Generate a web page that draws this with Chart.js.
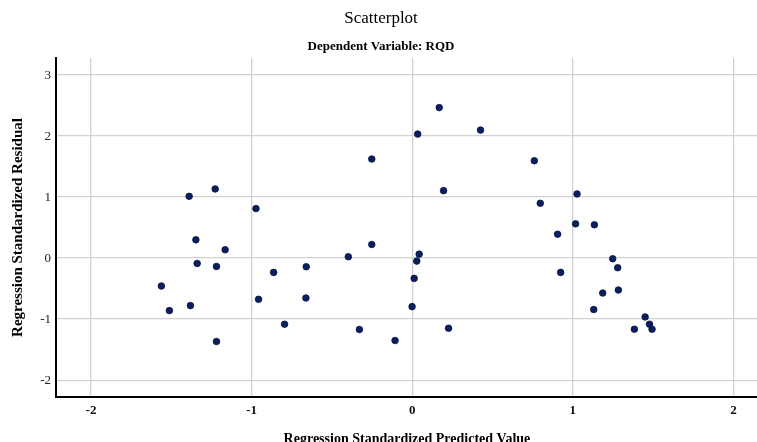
<!DOCTYPE html>
<html><head><meta charset="utf-8">
<script src="https://cdn.jsdelivr.net/npm/chart.js@4"></script>
<style>html,body{margin:0;padding:0;overflow:hidden;background:#fff}</style>
</head><body>
<canvas id="c" width="762" height="448"></canvas>
<script>
const predicted = [
  -1.227, -1.389, -0.973, -1.347, -1.165, -1.339, -1.219, -0.863, -1.562, -0.957,
  -1.381, -1.512, -0.795, -1.219, -0.660, -0.662,
  0.168, 0.425, 0.034, -0.252, 0.195, -0.252, -0.398, 0.043, 0.028, 0.012,
  -0.001, -0.329, 0.226, -0.107,
  0.760, 1.026, 0.797, 1.017, 1.134, 0.905, 1.248, 1.279, 0.924, 1.186,
  1.283, 1.130, 1.450, 1.477, 1.493, 1.383
];
const residual = [
  1.134, 1.013, 0.812, 0.300, 0.137, -0.087, -0.136, -0.234, -0.457, -0.675,
  -0.778, -0.860, -1.083, -1.366, -0.141, -0.654,
  2.467, 2.098, 2.033, 1.624, 1.106, 0.224, 0.023, 0.065, -0.049, -0.332,
  -0.795, -1.170, -1.149, -1.350,
  1.596, 1.052, 0.899, 0.562, 0.546, 0.392, -0.010, -0.157, -0.234, -0.572,
  -0.523, -0.843, -0.964, -1.083, -1.165, -1.165
];
const xTicks = [-2, -1, 0, 1, 2];
const yTicks = [-2, -1, 0, 1, 2, 3];
const chartTitle = 'Scatterplot';
const chartSubtitle = 'Dependent Variable: RQD';
const xTitle = 'Regression Standardized Predicted Value';
const yTitle = 'Regression Standardized Residual';

const serif = 'Liberation Serif, Times New Roman, serif';
const gridOpts = {color: '#d2d2d2', lineWidth: 1.3, drawTicks: false};

new Chart(document.getElementById('c'), {
  type: 'scatter',
  data: {
    datasets: [{
      data: predicted.map((x, i) => ({x: x, y: residual[i]})),
      pointRadius: 3.3,
      pointHoverRadius: 3.3,
      pointBackgroundColor: '#0b1f5f',
      pointBorderColor: '#061340',
      pointBorderWidth: 0.8
    }]
  },
  options: {
    responsive: false,
    devicePixelRatio: 1,
    animation: false,
    layout: {padding: 0},
    plugins: {
      legend: {display: false},
      tooltip: {enabled: false},
      title: {
        display: true, text: chartTitle, color: '#000',
        font: {family: serif, size: 17, weight: 'normal', lineHeight: 1.2},
        padding: {top: 8, bottom: 0}
      },
      subtitle: {
        display: true, text: chartSubtitle, color: '#000',
        font: {family: serif, size: 13, weight: 'bold', lineHeight: 1.2},
        padding: {top: 10, bottom: 4}
      }
    },
    scales: {
      x: {
        type: 'linear', min: -2.218, max: 2.152,
        afterBuildTicks: s => { s.ticks = xTicks.map(v => ({value: v})); },
        afterFit: s => { s.height = 51; },
        grid: gridOpts,
        border: {color: '#000', width: 2},
        ticks: {
          padding: 6, color: '#111', autoSkip: false, maxRotation: 0,
          font: {family: serif, size: 13, weight: 'bold'},
          callback: v => String(v)
        },
        title: {
          display: true, text: xTitle, color: '#000',
          font: {family: serif, size: 14, weight: 'bold', lineHeight: 1.2},
          padding: {top: 0, bottom: 0.6}
        }
      },
      y: {
        type: 'linear', min: -2.276, max: 3.28,
        afterBuildTicks: s => { s.ticks = yTicks.map(v => ({value: v})); },
        afterFit: s => { s.width = 56; },
        grid: gridOpts,
        border: {color: '#000', width: 2},
        ticks: {
          padding: 5, color: '#222', autoSkip: false,
          font: {family: serif, size: 13, weight: 'normal'},
          callback: v => String(v)
        },
        title: {
          display: true, text: yTitle, color: '#000',
          font: {family: serif, size: 15, weight: 'bold', lineHeight: 1.2},
          padding: {top: 9.5, bottom: 0}
        }
      }
    }
  }
});
</script>
</body></html>
